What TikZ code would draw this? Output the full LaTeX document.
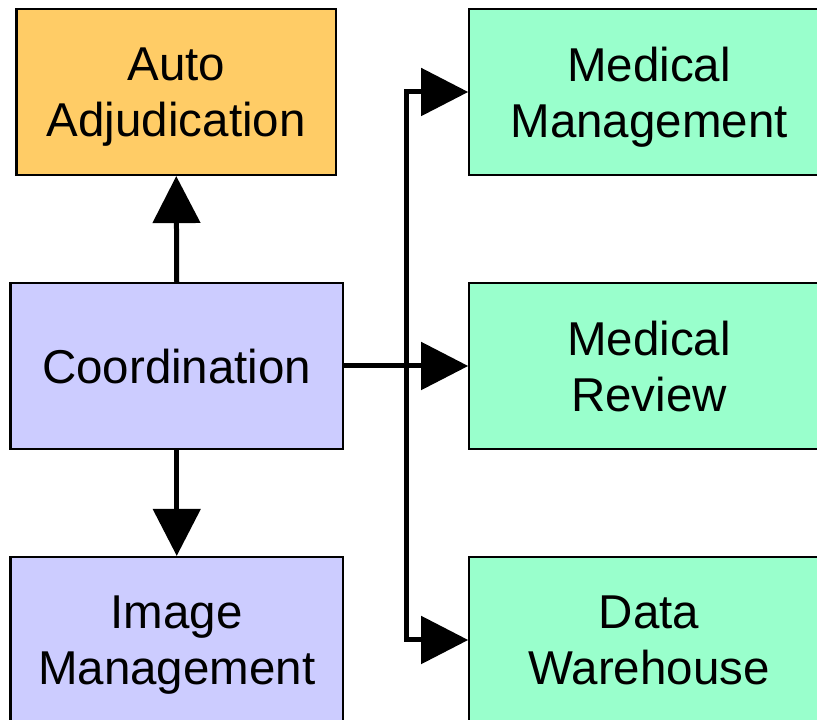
\documentclass[tikz,border=0pt]{standalone}
\usepackage{fontspec}
\setmainfont{Liberation Sans}
\usetikzlibrary{arrows.meta}
\definecolor{autoc}{HTML}{FFCC66}
\definecolor{coordc}{HTML}{CCCCFF}
\definecolor{greenc}{HTML}{99FFCC}
\tikzset{
  box/.style={draw=black, line width=2.2pt, rectangle, minimum height=166pt, inner sep=0pt,
    align=center, text depth=0pt, font=\fontsize{47.5pt}{56pt}\selectfont},
  conn/.style={line width=5pt, -{Triangle[length=47pt,width=47pt]}},
}
\begin{document}
\begin{tikzpicture}[x=1pt,y=1pt]
\useasboundingbox (0,0) rectangle (817,720);
\node[box, fill=autoc, minimum width=319.5pt] (auto) at (176.25,628) {Auto\\Adjudication};
\node[box, fill=coordc, minimum width=332.5pt] (coord) at (176.75,354) {Coordination};
\node[box, fill=coordc, minimum width=332.5pt] (image) at (176.75,80) {Image\\Management};
\node[box, fill=greenc, minimum width=359.7pt] (medm) at (649.15,628) {Medical\\Management};
\node[box, fill=greenc, minimum width=359.7pt] (medr) at (649.15,354) {Medical\\Review};
\node[box, fill=greenc, minimum width=359.7pt] (dw) at (649.15,80) {Data\\Warehouse};
\coordinate (j) at (406,354);
\draw[conn] (coord.north) -- (auto.south);
\draw[conn] (coord.south) -- (image.north);
\draw[conn] (coord.east) -- (medr.west);
\draw[conn] (j) |- (medm.west);
\draw[conn] (j) |- (dw.west);
\end{tikzpicture}
\end{document}
